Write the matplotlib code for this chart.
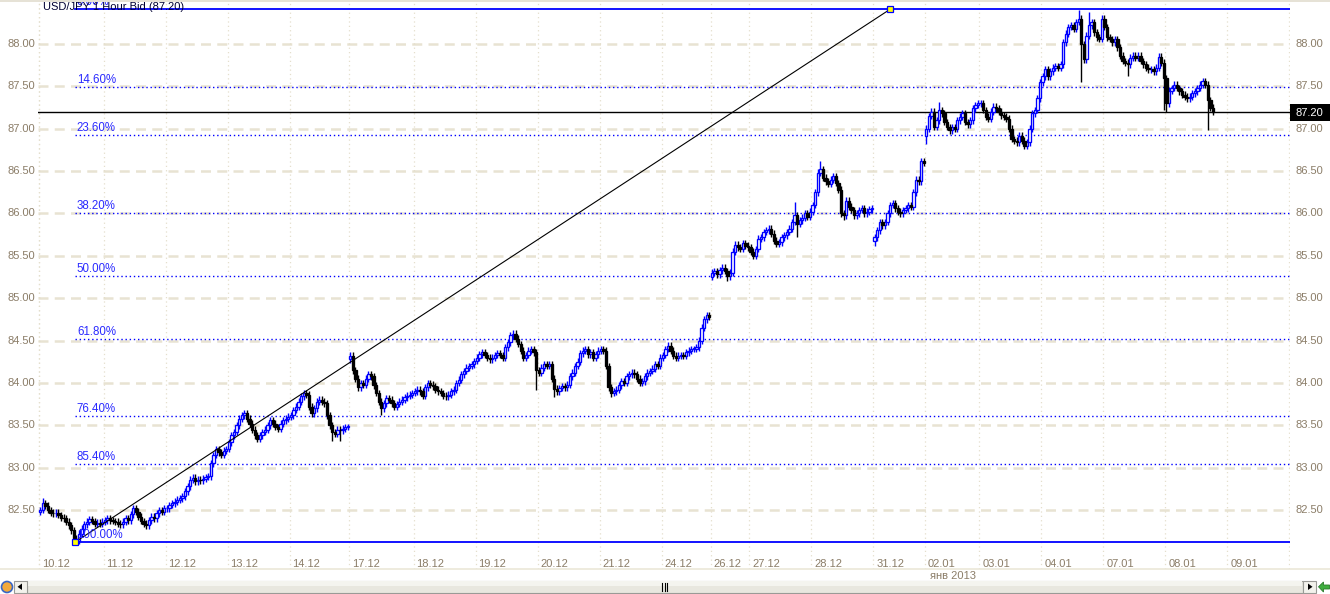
import numpy as np
import matplotlib
matplotlib.use("Agg")
import matplotlib.pyplot as plt
from matplotlib.patches import Rectangle, Polygon, Circle
from matplotlib.transforms import blended_transform_factory, offset_copy

# ---- data: USD/JPY hourly closes per trading day ----
day_labels = ['10.12', '11.12', '12.12', '13.12', '14.12', '17.12', '18.12', '19.12', '20.12', '21.12',
              '24.12', '26.12', '27.12', '28.12', '31.12', '02.01', '03.01', '04.01', '07.01', '08.01', '09.01']
day_sizes = [25, 24, 24, 24, 23, 25, 24, 24, 24, 24, 19, 15, 24, 24, 20, 21, 24, 24, 24, 24]

c_1012 = [82.50, 82.58, 82.55, 82.50, 82.47, 82.46, 82.47, 82.44, 82.41, 82.40, 82.36, 82.32, 82.26,
          82.16, 82.14, 82.22, 82.28, 82.33, 82.36, 82.39, 82.37, 82.34, 82.35, 82.34, 82.36]
c_1112 = [82.38, 82.40, 82.38, 82.37, 82.36, 82.34, 82.33, 82.36, 82.40, 82.38, 82.45, 82.52,
          82.48, 82.42, 82.37, 82.34, 82.32, 82.38, 82.42, 82.40, 82.46, 82.50, 82.48, 82.52]
c_1212 = [82.52, 82.56, 82.58, 82.60, 82.62, 82.64, 82.66, 82.72, 82.78, 82.86, 82.88, 82.84,
          82.86, 82.85, 82.87, 82.89, 82.90, 83.05, 83.15, 83.22, 83.18, 83.15, 83.20, 83.22]
c_1312 = [83.30, 83.38, 83.42, 83.50, 83.58, 83.62, 83.64, 83.58, 83.52, 83.45, 83.38, 83.34,
          83.38, 83.42, 83.45, 83.50, 83.56, 83.52, 83.48, 83.46, 83.52, 83.56, 83.58, 83.60]
c_1412 = [83.62, 83.68, 83.72, 83.78, 83.84, 83.88, 83.86, 83.72, 83.64, 83.70, 83.78, 83.80,
          83.78, 83.76, 83.62, 83.50, 83.42, 83.40, 83.45, 83.44, 83.46, 83.48, 83.48]
c_1712 = [84.32, 84.15, 84.05, 83.95, 84.00, 83.98, 84.05, 84.10, 84.08, 83.97, 83.88, 83.78, 83.70,
          83.76, 83.82, 83.80, 83.76, 83.72, 83.75, 83.78, 83.80, 83.83, 83.85, 83.86, 83.88]
c_1812 = [83.90, 83.92, 83.90, 83.85, 83.95, 84.00, 83.98, 83.96, 83.92, 83.90, 83.88, 83.85,
          83.84, 83.86, 83.90, 83.92, 84.00, 84.04, 84.10, 84.14, 84.18, 84.20, 84.22, 84.26]
c_1912 = [84.30, 84.34, 84.36, 84.33, 84.30, 84.28, 84.30, 84.33, 84.35, 84.33, 84.30, 84.42,
          84.48, 84.56, 84.58, 84.52, 84.46, 84.38, 84.30, 84.33, 84.38, 84.40, 84.36, 84.15]
c_2012 = [84.12, 84.18, 84.22, 84.20, 84.22, 84.05, 83.93, 83.90, 83.94, 83.96, 83.95, 83.98,
          84.08, 84.12, 84.20, 84.25, 84.35, 84.38, 84.40, 84.34, 84.36, 84.30, 84.34, 84.38]
c_2112 = [84.40, 84.38, 84.20, 83.95, 83.88, 83.90, 83.92, 83.97, 84.02, 84.00, 84.08, 84.10,
          84.12, 84.10, 84.05, 84.00, 84.02, 84.08, 84.12, 84.14, 84.17, 84.22, 84.20, 84.30]
c_2412 = [84.33, 84.40, 84.44, 84.38, 84.32, 84.30, 84.32, 84.33, 84.32, 84.36, 84.38, 84.40,
          84.40, 84.42, 84.50, 84.65, 84.75, 84.80, 84.78]
c_2612 = [85.30, 85.32, 85.28, 85.33, 85.36, 85.32, 85.26, 85.30, 85.55, 85.63, 85.60, 85.58,
          85.65, 85.62, 85.60]
c_2712 = [85.55, 85.50, 85.58, 85.70, 85.72, 85.78, 85.80, 85.82, 85.76, 85.68, 85.64, 85.66,
          85.72, 85.74, 85.78, 85.82, 85.90, 85.98, 85.88, 85.92, 85.95, 86.00, 85.96, 86.02]
c_2812 = [86.10, 86.25, 86.48, 86.52, 86.42, 86.38, 86.35, 86.40, 86.44, 86.36, 86.28, 86.00,
          85.98, 86.15, 86.08, 86.04, 85.98, 86.00, 86.04, 86.06, 86.00, 86.02, 86.05, 86.06]
c_3112 = [85.72, 85.80, 85.90, 85.86, 85.90, 86.00, 86.10, 86.12, 86.06, 86.02, 86.00, 86.04,
          86.06, 86.10, 86.08, 86.25, 86.40, 86.38, 86.62, 86.60]
c_0201 = [87.00, 87.15, 87.20, 87.02, 87.10, 87.22, 87.18, 87.08, 87.02, 86.98, 87.02, 87.00,
          87.10, 87.14, 87.18, 87.08, 87.05, 87.10, 87.24, 87.28, 87.30]
c_0301 = [87.30, 87.22, 87.14, 87.12, 87.20, 87.26, 87.24, 87.20, 87.16, 87.14, 87.12, 87.00,
          86.88, 86.86, 86.84, 86.92, 86.86, 86.80, 86.84, 87.00, 87.18, 87.22, 87.36, 87.55]
c_0401 = [87.62, 87.70, 87.62, 87.68, 87.72, 87.74, 87.72, 87.76, 88.02, 88.12, 88.20, 88.22,
          88.18, 88.26, 88.30, 88.00, 87.82, 88.10, 88.22, 88.26, 88.14, 88.08, 88.06, 88.30]
c_0701 = [88.20, 88.08, 88.06, 88.02, 88.06, 87.96, 87.86, 87.80, 87.78, 87.76, 87.84, 87.86,
          87.84, 87.86, 87.80, 87.76, 87.72, 87.70, 87.70, 87.68, 87.72, 87.85, 87.78, 87.60]
c_0801 = [87.30, 87.45, 87.48, 87.52, 87.48, 87.44, 87.40, 87.38, 87.36, 87.38, 87.42, 87.44,
          87.48, 87.52, 87.56, 87.52, 87.34, 87.25, 87.20]

closes_by_day = [c_1012, c_1112, c_1212, c_1312, c_1412, c_1712, c_1812, c_1912, c_2012, c_2112,
                 c_2412, c_2612, c_2712, c_2812, c_3112, c_0201, c_0301, c_0401, c_0701, c_0801]

first_open = 82.48
gap_opens = {'17.12': 84.28, '26.12': 85.25, '31.12': 85.68, '02.01': 86.92}
# wick extremes: (day, bar in day) -> price
spike_highs = {('10.12', 1): 82.64, ('17.12', 0): 84.36, ('19.12', 14): 84.62, ('27.12', 17): 86.13,
               ('28.12', 3): 86.62, ('02.01', 5): 87.32, ('04.01', 14): 88.40, ('04.01', 18): 88.38,
               ('08.01', 14): 87.60}
spike_lows = {('10.12', 14): 82.12, ('14.12', 16): 83.32, ('14.12', 19): 83.32, ('17.12', 12): 83.62,
              ('19.12', 23): 83.92, ('20.12', 6): 83.83, ('21.12', 4): 83.83, ('26.12', 6): 85.20,
              ('27.12', 18): 85.72, ('28.12', 12): 85.92, ('31.12', 0): 85.62, ('02.01', 0): 86.82,
              ('03.01', 17): 86.76, ('04.01', 15): 87.55, ('07.01', 9): 87.62, ('07.01', 23): 87.22,
              ('08.01', 0): 87.20, ('08.01', 16): 86.98}

last_price = 87.20
fib_low, fib_high = 82.12, 88.41
fib_levels = [0.0, 14.6, 23.6, 38.2, 50.0, 61.8, 76.4, 85.4, 100.0]

# ---- build OHLC ----
wick_pad = 0.04
xs, opens, closes, highs, lows = [], [], [], [], []
starts = np.concatenate([[0], np.cumsum(day_sizes)])
prev = first_open
for d, (lab, cl) in enumerate(zip(day_labels, closes_by_day)):
    for j, c in enumerate(cl):
        o = gap_opens.get(lab, prev) if j == 0 else prev
        h = max(max(o, c) + wick_pad, spike_highs.get((lab, j), 0))
        l = min(min(o, c) - wick_pad, spike_lows.get((lab, j), 1e9))
        xs.append(starts[d] + j)
        opens.append(o); closes.append(c); highs.append(h); lows.append(l)
        prev = c
xs = np.array(xs); opens = np.array(opens); closes = np.array(closes)
highs = np.array(highs); lows = np.array(lows)

# ---- figure ----
W, H = 1330, 594
plt.rcParams['font.family'] = ['Liberation Sans', 'DejaVu Sans']
fig = plt.figure(figsize=(W / 100, H / 100), dpi=100)
fig.patch.set_facecolor('white')

px_bar = 2.583
x0_px = 40.3
ax = fig.add_axes([38 / W, (H - 569) / H, (1290 - 38) / W, 569 / H])
ax.set_xlim((38 - x0_px) / px_bar, (1290 - x0_px) / px_bar)
ax.set_ylim(88 - (569 - 44) / 84.73, 88 + 44 / 84.73)
for s in ax.spines.values():
    s.set_visible(False)
ax.set_xticks([]); ax.set_yticks([])

grid_col = '#e4dfcc'
tick_col = '#8b7d68'
blue = '#0000ff'

# horizontal dashed grid + price labels on both sides
ytr = blended_transform_factory(ax.transAxes, ax.transData)
for p in np.arange(82.5, 88.01, 0.5):
    ax.axhline(p, color='#e8e3d2', lw=1.8, dashes=(4, 2.5), zorder=1)
    ax.text(0, p, f'{p:.2f}', transform=offset_copy(ytr, fig=fig, x=-3, y=0, units='dots'),
            ha='right', va='center', fontsize=8, color=tick_col)
    ax.text(1, p, f'{p:.2f}', transform=offset_copy(ytr, fig=fig, x=6, y=0, units='dots'),
            ha='left', va='center', fontsize=8, color=tick_col)

# vertical dotted grid at day boundaries + date labels
xtr = blended_transform_factory(ax.transData, ax.transAxes)
for k, lab in enumerate(day_labels):
    xb = starts[k] - 0.5
    ax.axvline(xb, color=grid_col, lw=0.9, dashes=(1, 2.5), zorder=1)
    ax.text(xb, 0.0123, lab, transform=offset_copy(xtr, fig=fig, x=3, y=-2, units='dots'),
            ha='left', va='center', fontsize=8, color=tick_col)
ax.axvline(ax.get_xlim()[0] + 0.2, color=grid_col, lw=0.9, dashes=(1, 2.5), zorder=1)
ax.axvline(ax.get_xlim()[1] - 0.2, color=grid_col, lw=0.9, dashes=(1, 2.5), zorder=1)

# fibonacci levels
fib_x0 = 13.4
fib_x1 = 329
xmax = ax.get_xlim()[1]
for lv in fib_levels:
    p = fib_high - (fib_high - fib_low) * lv / 100
    if lv in (0.0, 100.0):
        ax.plot([fib_x0, xmax], [p, p], color=blue, lw=1.3, zorder=2)
    else:
        ax.plot([fib_x0, xmax], [p, p], color=blue, lw=1.0, ls=(0, (1, 2)), zorder=2)
    ax.text(fib_x0, p, f'{lv:.2f}%', transform=offset_copy(ax.transData, fig=fig, x=2, y=1, units='dots'),
            ha='left', va='bottom', fontsize=8.3, color='#2a2aff', zorder=6)

# last price line
ax.axhline(last_price, color='black', lw=1.0, zorder=2)

# candles
up = closes >= opens
cols = np.where(up, blue, 'black')
ax.vlines(xs, lows, highs, colors=cols, lw=1.0, zorder=3)
body_lo = np.minimum(opens, closes)
body_h = np.maximum(np.abs(closes - opens), 0.008)
ax.bar(xs[up], body_h[up], bottom=body_lo[up], width=0.9, color='white', edgecolor=blue,
       linewidth=0.95, zorder=4)
ax.bar(xs[~up], body_h[~up], bottom=body_lo[~up], width=0.9, color='black', edgecolor='black',
       linewidth=0.95, zorder=4)

# fib trend line with anchors
ax.plot([fib_x0, fib_x1], [fib_low, fib_high], color='black', lw=0.8, zorder=5)
ax.plot([fib_x0, fib_x1], [fib_low, fib_high], ls='none', marker='s', ms=5,
        mfc='#ffff00', mec=blue, mew=0.9, zorder=6)

# title
fig.text(43 / W, 1 - 7 / H, 'USD/JPY 1 Hour Bid (87.20)', fontsize=8, color='#000033',
         ha='left', va='center', zorder=7)

# current price box on the right
fig.patches.append(Rectangle((1290 / W, 1 - 121 / H), 40 / W, 17 / H, transform=fig.transFigure,
                             facecolor='black', edgecolor='none', figure=fig))
fig.text(1296 / W, 1 - 112.5 / H, '87.20', color='white', fontsize=8, ha='left', va='center')

# top strip and bottom separator
fig.patches.append(Rectangle((0, 1 - 2 / H), 1, 2 / H, transform=fig.transFigure,
                             facecolor='#e6e2d6', edgecolor='none', figure=fig))
fig.lines.append(plt.Line2D([0, 1], [1 - 569 / H, 1 - 569 / H], transform=fig.transFigure,
                            color='#ebe7d8', lw=1.2, figure=fig))
fig.text(930 / W, 1 - 576 / H, 'янв 2013', fontsize=8, color=tick_col, ha='left', va='center')

# scrollbar strip
sb = fig.add_axes([0, 0, 1, 15 / H])
sb.set_xlim(0, W); sb.set_ylim(594, 579)
sb.axis('off')
sb.add_patch(Rectangle((27, 580.5), 1276, 12.5, facecolor='#e8e7df', edgecolor='#9a9a96', lw=0.8))
sb.add_patch(Rectangle((28, 581), 1274, 5, facecolor='#f4f4ef', edgecolor='none'))
for bx, tri in [(14, [(17.5, 586.8), (22, 583.5), (22, 590)]),
                (1303, [(1312.5, 586.8), (1308, 583.5), (1308, 590)])]:
    sb.add_patch(Rectangle((bx, 580.5), 13, 12.5, facecolor='#f3f2ec', edgecolor='#9a9a96', lw=0.8))
    sb.add_patch(Polygon(tri, closed=True, facecolor='black', edgecolor='none'))
for gx in (662, 664.5, 667):
    sb.plot([gx, gx], [583, 590.5], color='black', lw=0.8)
sb.add_patch(Circle((7, 587), 5.5, facecolor='#f2a93b', edgecolor='#3a66c4', lw=1.2))
sb.add_patch(Polygon([(1318.5, 586.8), (1323.5, 582), (1323.5, 585), (1329.5, 585),
                      (1329.5, 589), (1323.5, 589), (1323.5, 592)], closed=True,
                     facecolor='#3fae3f', edgecolor='#2a7a2a', lw=0.6))

fig.savefig('out.png', dpi=100, facecolor='white')
